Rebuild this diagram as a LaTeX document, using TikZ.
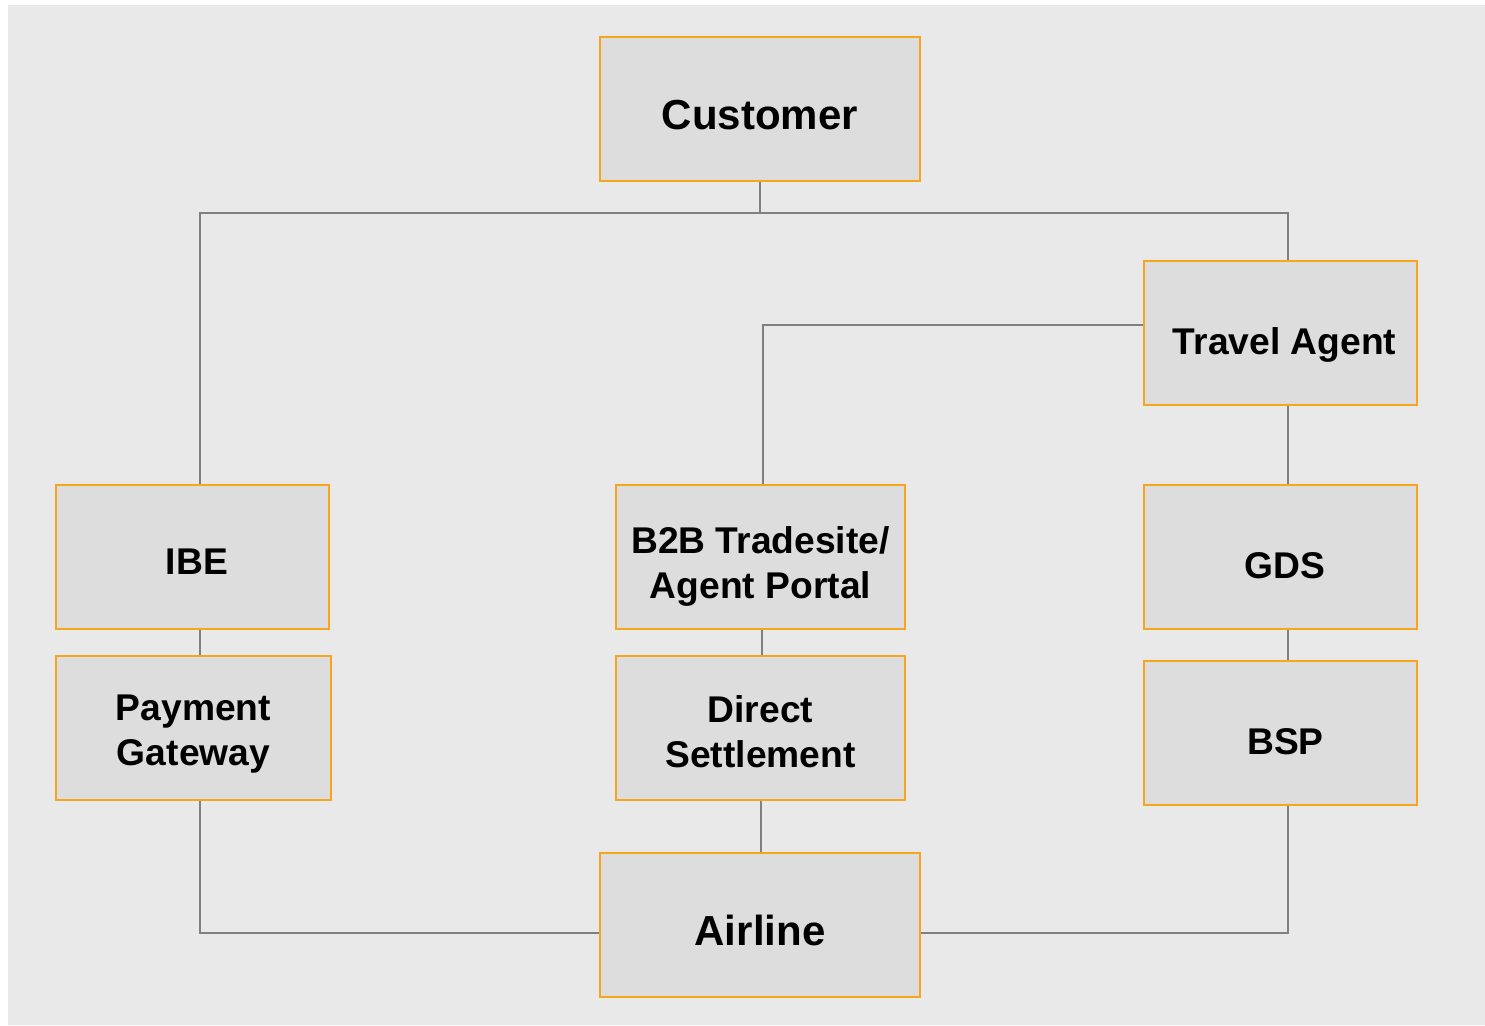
\documentclass[tikz,border=0pt]{standalone}
\usepackage{fontspec}
\setmainfont{Liberation Sans}
\definecolor{bgc}{HTML}{E9E9E9}
\definecolor{boxc}{HTML}{DDDDDD}
\definecolor{edgec}{HTML}{F8A51C}
\definecolor{linec}{HTML}{808080}
\tikzset{
  box/.style={draw=edgec, fill=boxc, line width=2pt, inner sep=0pt, align=center, text=black},
  big/.style={font=\bfseries\fontsize{42}{50}\selectfont},
  small/.style={font=\bfseries\fontsize{37.2}{45}\selectfont},
  conn/.style={draw=linec, line width=2pt}
}
\begin{document}
\begin{tikzpicture}[x=1pt,y=-1pt]
\useasboundingbox (0,0) rectangle (1485,1025);
\fill[bgc] (8,5) rectangle (1485,1025);

\coordinate (lx) at (200,0);
\coordinate (rx) at (1288,0);
\coordinate (mx) at (763,0);
\coordinate (m2) at (762,0);
\coordinate (m3) at (761,0);
\coordinate (top) at (760,213);
\coordinate (bot) at (0,933);
\coordinate (tay) at (0,325);

\node[box,big, minimum width=320pt, minimum height=144pt, text height=41pt, text depth=0pt] (cust) at (760,109) {Customer};
\node[box,small, minimum width=273pt, minimum height=144pt, text height=42pt, text depth=0pt] (ta) at (1280.5,333) {\hspace*{8pt}Travel Agent};
\node[box,small, minimum width=273pt, minimum height=144pt, text height=34pt, text depth=0pt] (ibe) at (192.5,557) {\hspace*{9pt}IBE};
\node[box,small, minimum width=289pt, minimum height=144pt] (b2b) at (760.5,557) {\rule{0pt}{46.8pt}B2B Tradesite/\\Agent Portal};
\node[box,small, minimum width=273pt, minimum height=144pt, text height=42.6pt, text depth=0pt] (gds) at (1280.5,557) {\hspace*{9pt}GDS};
\node[box,small, minimum width=275pt, minimum height=144pt] (pg) at (193.5,728) {\rule{0pt}{36.8pt}Payment\\Gateway};
\node[box,small, minimum width=289pt, minimum height=144pt] (ds) at (760.5,728) {\rule{0pt}{33.6pt}Direct\\Settlement};
\node[box,small, minimum width=273pt, minimum height=144pt, text height=41.4pt, text depth=0pt] (bsp) at (1280.5,733.3) {\hspace*{10pt}BSP};
\node[box,big, minimum width=320pt, minimum height=144pt, text height=40pt, text depth=0pt] (air) at (760,925) {Airline};

\draw[conn] (cust.south) -- (top);
\draw[conn] (ibe.north -| lx) |- (top) -| (ta.north -| rx);
\draw[conn] (ta.west |- tay) -| (b2b.north -| mx);
\draw[conn] (ta.south -| rx) -- (gds.north -| rx);
\draw[conn] (ibe.south -| lx) -- (pg.north -| lx);
\draw[conn] (b2b.south -| m2) -- (ds.north -| m2);
\draw[conn] (gds.south -| rx) -- (bsp.north -| rx);
\draw[conn] (ds.south -| m3) -- (air.north -| m3);
\draw[conn] (pg.south -| lx) |- (air.west |- bot);
\draw[conn] (bsp.south -| rx) |- (air.east |- bot);
\end{tikzpicture}
\end{document}
